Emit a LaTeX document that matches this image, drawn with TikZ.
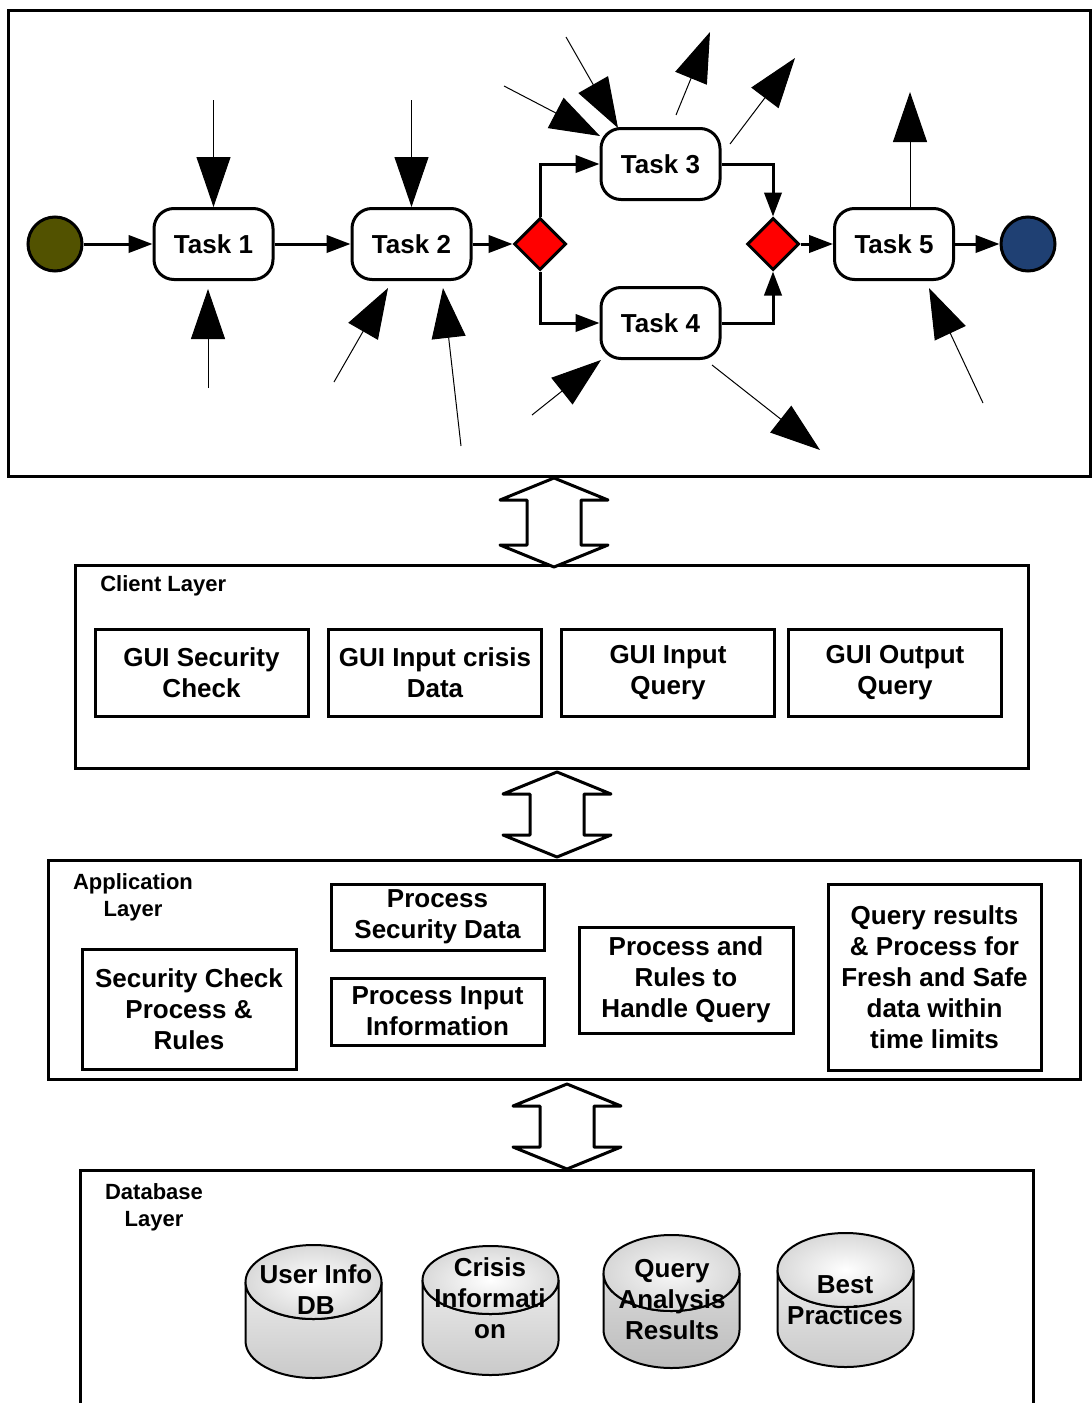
\documentclass[tikz,border=0pt]{standalone}
\usepackage{fontspec}
\setmainfont{Liberation Sans}
\usetikzlibrary{arrows.meta,shapes.geometric}

\definecolor{startfill}{RGB}{82,82,0}
\definecolor{endfill}{RGB}{31,64,115}

% double-headed hollow arrow between two layers: centre x, top tip y, bottom tip y
\newcommand{\layerlink}[3]{%
  \draw[line width=2.25pt, line join=round, fill=white]
    (#1,#2) -- (#1+54,#2+22) -- (#1+27,#2+22) -- (#1+27,#3-22) -- (#1+54,#3-22)
    -- (#1,#3) -- (#1-54,#3-22) -- (#1-27,#3-22) -- (#1-27,#2+22) -- (#1-54,#2+22) -- cycle;}

% database cylinder: centre x, top y, bottom y, cap half-height (px),
% body top colour, body bottom colour, cap inner colour, cap outer colour
\newcommand{\dbcyl}[8]{%
  \shadedraw[line width=1.5pt, top color=#5, bottom color=#6]
    (#1-68,#2+#4) -- (#1-68,#3-#4)
    arc[start angle=180, end angle=360, x radius=51pt, y radius={#4*0.75pt}]
    -- (#1+68,#2+#4)
    arc[start angle=0, end angle=-180, x radius=51pt, y radius={#4*0.75pt}] -- cycle;
  \shadedraw[line width=1.5pt, inner color=#7, outer color=#8]
    (#1,#2+#4) ellipse[x radius=51pt, y radius={#4*0.75pt}];}

\begin{document}
\begin{tikzpicture}[x=0.75pt, y=-0.75pt,
  font=\bfseries\fontsize{19.5pt}{23.25pt}\selectfont,
  task/.style={draw, line width=2.25pt, rounded corners=15pt, fill=white,
    minimum width=89.25pt, minimum height=53.25pt, inner sep=0pt},
  gate/.style={diamond, draw, line width=2.25pt, fill=red,
    minimum width=39pt, minimum height=39pt, inner sep=0pt},
  terminal/.style={circle, draw, line width=2.25pt, minimum size=40.5pt, inner sep=0pt},
  flow/.style={line width=2.25pt, -{Triangle[length=18pt, width=13pt]}},
  effect/.style={line width=0.75pt, -{Triangle[length=37.5pt, width=25.5pt]}},
  frame/.style={draw, line width=2.25pt, inner sep=0pt},
  unit/.style={draw, line width=2.25pt, align=center, inner sep=0pt, fill=white},
  cunit/.style={unit, minimum width=159.75pt, minimum height=65.25pt},
  layerlabel/.style={font=\bfseries\fontsize{16.5pt}{20.25pt}\selectfont,
    align=center, inner sep=0pt},
  dbtext/.style={align=center, inner sep=0pt},
]
\useasboundingbox (0,0) rectangle (1092,1403);

% ---------------- process flow ----------------
\node[frame, minimum width=811.5pt, minimum height=349.5pt] (proc) at (549,243) {};

\node[terminal, fill=startfill] (start) at (55,244) {};
\node[task] (t1) at (213.5,244) {Task 1};
\node[task] (t2) at (411.5,244) {Task 2};
\node[gate] (d1) at (540,244) {};
\node[task] (t3) at (660.5,164) {Task 3};
\node[task] (t4) at (660.5,323) {Task 4};
\node[gate] (d2) at (773,244) {};
\node[task] (t5) at (894,244) {Task 5};
\node[terminal, fill=endfill] (stop) at (1028,244) {};

\draw[flow] (start) -- (t1);
\draw[flow] (t1) -- (t2);
\draw[flow] (t2) -- (d1);
\draw[flow] (d1.north) |- (t3.west);
\draw[flow] (d1.south) |- (t4.west);
\draw[flow] (t3.east) -| (d2.north);
\draw[flow] (t4.east) -| (d2.south);
\draw[flow] (d2) -- (t5);
\draw[flow] (t5) -- (stop);

% inputs and outputs of the tasks
\coordinate (i1a) at (213.5,100);
\coordinate (i1b) at (208,388);
\coordinate (i1bt) at (208,289);
\coordinate (i2a) at (411.5,100);
\coordinate (i2b) at (334,382);
\coordinate (i2bt) at (388,288);
\coordinate (i2c) at (461,446);
\coordinate (i2ct) at (443,288);
\coordinate (i3a) at (504,86);
\coordinate (i3at) at (600,136);
\coordinate (i3b) at (566,37);
\coordinate (i3bt) at (618,128);
\coordinate (o3a) at (676,115);
\coordinate (o3at) at (710,32);
\coordinate (o3b) at (730,144);
\coordinate (o3bt) at (795,58);
\coordinate (o5s) at (910,208);
\coordinate (o5t) at (910,92);
\coordinate (i5a) at (983,403);
\coordinate (i5at) at (929,288);
\coordinate (i4a) at (532,415);
\coordinate (i4at) at (601,360);
\coordinate (o4s) at (712,365);
\coordinate (o4t) at (820,450);

\draw[effect] (i1a) -- (t1.north);
\draw[effect] (i1b) -- (i1bt);
\draw[effect] (i2a) -- (t2.north);
\draw[effect] (i2b) -- (i2bt);
\draw[effect] (i2c) -- (i2ct);
\draw[effect] (i3a) -- (i3at);
\draw[effect] (i3b) -- (i3bt);
\draw[effect] (o3a) -- (o3at);
\draw[effect] (o3b) -- (o3bt);
\draw[effect] (o5s) -- (o5t);
\draw[effect] (i5a) -- (i5at);
\draw[effect] (i4a) -- (i4at);
\draw[effect] (o4s) -- (o4t);

% ---------------- client layer ----------------
\node[frame, minimum width=714.75pt, minimum height=152.25pt] (client) at (551.5,666.5) {};
\node[layerlabel, anchor=west] (clientlbl) at (100,586) {Client Layer};
\node[cunit] (gsc) at (201.5,672.5) {GUI Security\\Check};
\node[cunit] (gicd) at (435,672.5) {GUI Input crisis\\Data};
\node[cunit] (giq) at (668,672.5) {GUI Input\\Query};
\node[cunit] (goq) at (895,672.5) {GUI Output\\Query};

% ---------------- application layer ----------------
\node[frame, minimum width=774pt, minimum height=164.25pt] (app) at (564,969.5) {};
\node[layerlabel] (applbl) at (133,897.5) {Application\\Layer};
\node[unit, minimum width=160.5pt, minimum height=90pt] (scp) at (189,1009) {Security Check\\Process \&\\Rules};
\node[unit, minimum width=159.75pt, minimum height=49.5pt] (psd) at (437.5,917) {Process\\Security Data};
\node[unit, minimum width=159.75pt, minimum height=50.25pt] (pii) at (437.5,1011.5) {Process Input\\Information};
\node[unit, minimum width=160.5pt, minimum height=79.5pt] (prh) at (686,980) {Process and\\Rules to\\Handle Query};
\node[unit, minimum width=159.75pt, minimum height=139.5pt] (qrp) at (934.5,977) {Query results\\\& Process for\\Fresh and Safe\\data within\\time limits};

% ---------------- database layer ----------------
\draw[line width=2.25pt] (80,1410) -- (80,1170) -- (1033,1170) -- (1033,1410);
\node[layerlabel] (dblbl) at (154,1207.5) {Database\\Layer};

\dbcyl{313.5}{1245}{1378}{37}{gray!16}{gray!42}{white}{gray!30}
\dbcyl{490.5}{1246}{1375}{34}{gray!16}{gray!42}{white}{gray!30}
\dbcyl{671.5}{1235}{1368}{38}{gray!30}{gray!52}{gray!6}{gray!32}
\dbcyl{845.5}{1233}{1367}{37}{gray!16}{gray!42}{white}{gray!30}

\node[dbtext] (db1) at (316,1290) {User Info\\DB};
\node[dbtext] (db2) at (490,1298) {Crisis\\Informati\\on};
\node[dbtext] (db3) at (672,1300) {Query\\Analysis\\Results};
\node[dbtext] (db4) at (845,1300) {Best\\Practices};

% ---------------- links between layers ----------------
\layerlink{554}{478}{567}
\layerlink{557}{772}{857}
\layerlink{567}{1084}{1169}

\end{tikzpicture}
\end{document}
